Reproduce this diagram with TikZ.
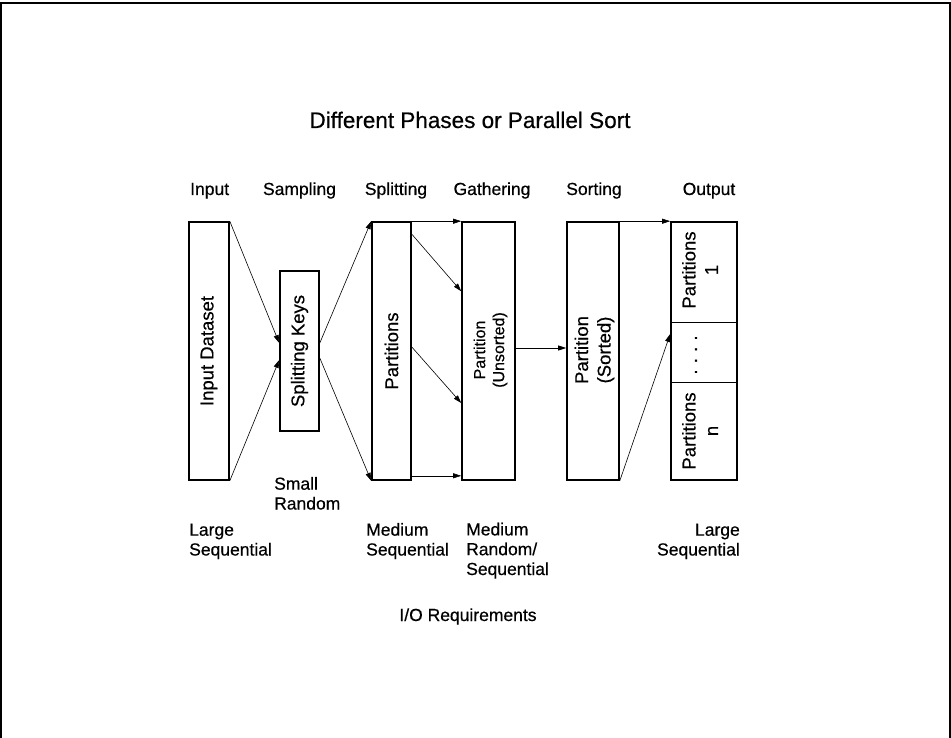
\documentclass[tikz,border=0pt]{standalone}
\usepackage{fontspec}
\setmainfont{Liberation Sans}[FakeBold=0.5]
\usetikzlibrary{arrows.meta}
\begin{document}
\begin{tikzpicture}[x=1pt,y=-1pt,
  lbl/.style={font=\fontsize{17.5}{19.8}\selectfont, inner sep=0pt, align=left},
  boxtext/.style={font=\fontsize{18.5}{22.5}\selectfont, rotate=90, align=center, inner sep=0pt},
  stage/.style={draw, line width=1.6pt, inner sep=0pt},
  flow/.style={line width=0.6pt, -{Triangle[length=8pt,width=5pt]}},
  divider/.style={line width=0.8pt},
]
\useasboundingbox (0,0) rectangle (951,738);
% frame
\draw[line width=2pt] (1,738) -- (1,3) -- (950,3) -- (950,738);

% title
\node[font=\fontsize{22.5}{27}\selectfont, inner sep=0pt, anchor=base] (title) at (470,128) {Different Phases or Parallel Sort};

% phase headings
\node[lbl, anchor=base west] (hin)   at (190,195) {Input};
\node[lbl, anchor=base]      (hsam)  at (299.5,195) {Sampling};
\node[lbl, anchor=base]      (hspl)  at (396,195) {Splitting};
\node[lbl, anchor=base]      (hgat)  at (492,195) {Gathering};
\node[lbl, anchor=base]      (hsor)  at (594,195) {Sorting};
\node[lbl, anchor=base]      (hout)  at (709,195) {Output};

% stage boxes
\node[stage, minimum width=40, minimum height=258] (in)   at (209,351) {};
\node[stage, minimum width=39, minimum height=160] (sk)   at (299.5,351) {};
\node[stage, minimum width=39, minimum height=258] (part) at (391.5,351) {};
\node[stage, minimum width=53, minimum height=258] (gath) at (488.5,351) {};
\node[stage, minimum width=52, minimum height=258] (sort) at (593,351) {};
\node[stage, minimum width=66, minimum height=258] (out)  at (704,351) {};
\draw[divider] (672,322) -- (736,322);
\draw[divider] (672,382) -- (736,382);

% box texts
\node[boxtext] (tin)   at (in.center)   {Input Dataset};
\node[boxtext] (tsk)   at (sk.center)   {Splitting Keys};
\node[boxtext] (tpart) at (part.center) {Partitions};
\node[boxtext, font=\fontsize{16}{19}\selectfont] (tgath) at (490.5,350) {Partition\\(Unsorted)};
\node[boxtext] (tsort) at (594.5,350) {Partition\\(Sorted)};
\node[boxtext] (tout1) at (700,270) {Partitions\\1};
\node[boxtext] (tdots) at (696,355) {.\,\,.\,\,.\,\,.};
\node[boxtext] (toutn) at (700,431) {Partitions\\n};

% data flow
\draw[flow] (in.north east) -- ([yshift=8pt]sk.west);
\draw[flow] (in.south east) -- ([yshift=-9pt]sk.west);
\draw[flow] ([yshift=8pt]sk.east) -- (part.north west);
\draw[flow] ([yshift=-7pt]sk.east) -- (part.south west);
\draw[flow] (part.north east) -- (gath.north west);
\draw[flow] ([yshift=-13pt]part.north east) -- ([yshift=-70pt]gath.north west);
\draw[flow] ([yshift=4pt]part.east) -- ([yshift=-52pt]gath.west);
\draw[flow] ([yshift=5pt]part.south east) -- ([yshift=5pt]gath.south west);
\draw[flow] ([yshift=3pt]gath.east) -- ([yshift=3pt]sort.west);
\draw[flow] (sort.north east) -- (out.north west);
\draw[flow] (sort.south east) -- ([yshift=17pt]out.west);

% I/O requirement labels (anchored on the baseline of the last line)
\node[lbl, anchor=base west] (rsam) at (274,509.5) {Small\\Random};
\node[lbl, anchor=base west] (rin)  at (189,555.5) {Large\\Sequential};
\node[lbl, anchor=base west] (rspl) at (366,555.5) {Medium\\Sequential};
\node[lbl, anchor=base west] (rgat) at (466,575) {Medium\\Random/\\Sequential};
\node[lbl, anchor=base east, align=right] (rout) at (740,555.5) {Large\\Sequential};
\node[font=\fontsize{17.5}{21}\selectfont, inner sep=0pt, anchor=base] (io) at (468,621) {I/O Requirements};
\end{tikzpicture}
\end{document}
